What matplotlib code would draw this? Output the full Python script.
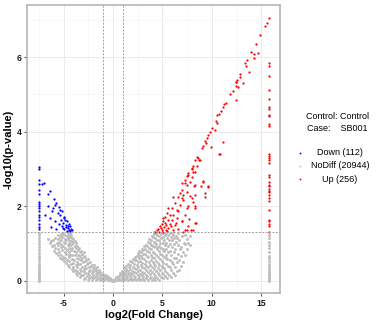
import numpy as np
import matplotlib
matplotlib.use("Agg")
import matplotlib.pyplot as plt
from matplotlib.lines import Line2D

plt.rcParams['font.family'] = ['Liberation Sans', 'DejaVu Sans']
plt.rcParams['axes.unicode_minus'] = False

# legend categories and counts
categories = ["Down", "NoDiff", "Up"]
counts = [112, 20944, 256]
colors = ["#0000FF", "#BEBEBE", "#FF0000"]
control_name = "Control"
case_name = "SB001"

# significant down (log2FC, -log10 p)
down_pts = [
    (-7.53, 3.05), (-7.53, 3.0), (-7.53, 2.69), (-7.53, 2.59), (-7.53, 2.44), (-7.53, 2.32),
    (-7.53, 2.11), (-7.53, 2.06), (-7.53, 2.0), (-7.53, 1.95), (-7.53, 1.86), (-7.53, 1.77),
    (-7.53, 1.7), (-7.53, 1.64), (-7.53, 1.53), (-7.53, 1.44), (-7.53, 1.38),
    (-7.19, 2.59), (-6.96, 2.62), (-6.41, 2.41), (-6.62, 2.32), (-5.95, 2.19), (-5.74, 2.08),
    (-6.62, 2.01), (-6.08, 1.95), (-6.18, 1.88), (-5.5, 1.99), (-5.4, 1.9), (-5.17, 1.86),
    (-6.86, 1.77), (-6.35, 1.68), (-5.34, 1.77), (-5.0, 1.68), (-4.83, 1.64), (-5.84, 1.59),
    (-5.5, 1.53), (-4.66, 1.59), (-4.49, 1.53), (-6.28, 1.44), (-5.74, 1.4), (-5.17, 1.47),
    (-4.73, 1.5), (-4.39, 1.46), (-4.26, 1.4), (-4.15, 1.37), (-4.93, 1.38), (-4.59, 1.42),
    (-4.3, 1.34), (-4.8, 1.45), (-5.05, 1.55), (-4.45, 1.36), (-4.65, 1.33), (-5.3, 1.62),
    (-4.95, 1.72), (-5.6, 1.82), (-5.85, 2.02), (-4.55, 1.48), (-5.1, 1.41),
]

# significant up
up_pts = [
    (15.8, 7.05), (15.6, 6.93), (15.4, 6.83), (14.9, 6.6), (14.5, 6.34), (14.0, 6.13),
    (14.3, 6.08), (14.7, 6.12), (14.3, 5.99), (13.6, 5.92), (13.4, 5.84), (13.5, 5.77),
    (13.8, 5.6), (12.9, 5.55), (12.9, 5.47), (13.2, 5.3), (12.5, 5.39), (12.4, 5.34),
    (12.46, 5.34), (12.43, 5.23), (12.7, 5.19), (12.19, 5.1), (11.85, 5.0), (12.43, 4.85),
    (11.45, 4.76), (11.28, 4.73), (11.18, 4.67), (10.91, 4.56), (10.77, 4.47), (10.57, 4.45),
    (10.4, 4.29), (10.5, 4.23), (10.06, 4.11), (10.33, 4.05), (9.83, 3.98), (9.66, 3.91),
    (9.49, 3.84), (9.32, 3.74), (9.42, 3.69), (9.15, 3.62), (11.18, 3.71), (9.9, 3.58),
    (8.98, 3.56), (10.77, 3.4), (8.53, 3.32), (8.74, 3.24), (8.31, 3.23), (8.14, 3.09),
    (8.48, 3.08), (7.97, 2.99), (8.31, 2.93), (7.46, 2.81), (7.97, 2.78), (7.29, 2.71),
    (9.08, 2.68), (6.96, 2.62), (7.46, 2.57), (8.2, 2.53), (9.66, 2.51), (8.92, 2.55),
    (6.79, 2.35), (7.12, 2.31), (7.8, 2.28), (8.31, 2.31), (9.32, 2.26), (6.96, 2.22),
    (8.07, 2.1), (7.63, 2.0), (8.31, 1.95), (7.29, 1.77), (7.73, 1.65), (6.96, 1.59),
    (8.31, 1.55), (7.63, 1.46), (8.64, 3.29), (7.97, 3.02), (8.14, 2.93), (7.63, 2.84),
    (7.8, 2.66), (7.29, 2.62), (8.31, 2.57), (6.96, 2.44), (7.46, 2.39), (6.62, 2.26),
    (7.12, 2.17), (7.97, 2.22), (6.28, 2.08), (6.79, 2.04), (5.95, 1.95), (6.45, 1.9),
    (7.53, 1.95), (5.44, 1.81), (5.78, 1.77), (6.11, 1.77), (5.27, 1.72), (5.6, 1.64),
    (5.95, 1.64), (6.45, 1.68), (6.96, 1.59), (5.1, 1.59), (4.93, 1.53), (5.37, 1.5),
    (5.78, 1.53), (6.28, 1.5), (4.76, 1.46), (5.17, 1.44), (5.6, 1.41), (4.59, 1.39),
    (4.93, 1.37), (4.43, 1.35), (5.37, 1.37), (6.11, 1.37), (6.62, 1.38), (7.29, 1.35),
    (4.26, 1.32), (7.87, 1.37), (4.69, 1.32), (5.1, 1.32), (7.63, 2.89), (6.11, 2.26),
    (5.6, 1.95), (6.62, 1.86), (5.1, 1.68), (8.81, 3.24), (9.15, 2.66), (9.66, 2.53),
    (9.32, 2.35), (8.31, 2.0), (8.07, 1.37), (8.41, 1.55), (7.12, 1.32), (7.53, 1.37),
    (10.84, 3.4), (5.3, 1.55), (5.85, 1.46), (6.4, 1.55), (4.85, 1.42), (5.5, 1.33),
    (15.8, 5.84), (15.8, 5.76), (15.8, 5.5), (15.8, 5.12), (15.8, 4.89), (15.8, 4.66),
    (15.8, 4.6), (15.8, 4.46), (15.8, 4.42), (15.8, 4.2), (15.8, 4.14), (15.8, 3.4),
    (15.8, 3.35), (15.8, 3.3), (15.8, 3.23), (15.8, 3.16), (15.8, 2.84), (15.8, 2.78),
    (15.8, 2.65), (15.8, 2.57), (15.8, 2.55), (15.8, 2.46), (15.8, 2.41), (15.8, 2.37),
    (15.8, 2.31), (15.8, 2.22), (15.8, 2.13), (15.8, 1.9), (15.8, 1.62), (15.8, 1.59),
    (15.8, 1.53), (15.8, 1.48), (15.8, 1.32),
]

# not significant
nodiff_pts = [
    # left wing
    (-0.25, 0.02), (-0.35, 0.06), (-0.55, 0.01), (-0.65, 0.07), (-0.6, 0.12),
    (-0.95, 0.02), (-1.05, 0.08), (-0.9, 0.14), (-1.1, 0.19), (-1.35, 0.01),
    (-1.45, 0.07), (-1.3, 0.14), (-1.5, 0.21), (-1.4, 0.28), (-1.75, 0.02),
    (-1.85, 0.09), (-1.7, 0.17), (-1.9, 0.26), (-1.8, 0.34), (-1.95, 0.41),
    (-2.15, 0.03), (-2.25, 0.11), (-2.1, 0.2), (-2.3, 0.3), (-2.2, 0.4),
    (-2.35, 0.49), (-2.55, 0.03), (-2.65, 0.12), (-2.5, 0.22), (-2.7, 0.33),
    (-2.6, 0.44), (-2.75, 0.55), (-2.8, 0.64), (-2.95, 0.05), (-3.05, 0.15),
    (-2.9, 0.26), (-3.1, 0.38), (-3.0, 0.5), (-3.15, 0.62), (-3.1, 0.72),
    (-3.2, 0.8), (-3.35, 0.1), (-3.45, 0.2), (-3.3, 0.32), (-3.5, 0.45),
    (-3.4, 0.58), (-3.55, 0.7), (-3.5, 0.82), (-3.6, 0.93), (-3.75, 0.2),
    (-3.85, 0.3), (-3.7, 0.42), (-3.9, 0.55), (-3.8, 0.68), (-3.95, 0.8),
    (-3.85, 0.92), (-4.0, 1.04), (-4.05, 1.12), (-4.15, 0.32), (-4.25, 0.45),
    (-4.1, 0.58), (-4.3, 0.7), (-4.2, 0.83), (-4.35, 0.95), (-4.25, 1.07),
    (-4.35, 1.18), (-4.3, 1.27), (-4.55, 0.42), (-4.65, 0.55), (-4.5, 0.68),
    (-4.7, 0.82), (-4.6, 0.95), (-4.75, 1.08), (-4.65, 1.2), (-4.55, 1.28),
    (-4.95, 0.52), (-5.05, 0.64), (-4.9, 0.78), (-5.1, 0.92), (-5.0, 1.05),
    (-5.15, 1.18), (-5.05, 1.27), (-5.35, 0.62), (-5.45, 0.76), (-5.3, 0.9),
    (-5.5, 1.04), (-5.4, 1.16), (-5.3, 1.26), (-5.75, 0.74), (-5.85, 0.88),
    (-5.7, 1.02), (-5.9, 1.15), (-6.2, 0.92), (-6.25, 1.06), (-6.6, 1.12),
    (-1.6, 0.24), (-2.45, 0.36), (-3.25, 0.55), (-3.65, 0.62), (-4.45, 0.88),
    (-4.85, 1.0), (-2.05, 0.15), (-2.85, 0.4), (-3.7, 1.0), (-4.4, 1.1),
    (-1.2, 0.05), (-0.8, 0.04), (-5.25, 0.7), (-5.6, 0.84), (-4.0, 0.25),
    (-0.45, 0.03), (-0.5, 0.09), (-0.85, 0.05), (-0.8, 0.11), (-0.85, 0.16),
    (-1.25, 0.03), (-1.25, 0.1), (-1.2, 0.17), (-1.3, 0.23), (-1.65, 0.04),
    (-1.6, 0.12), (-1.65, 0.2), (-1.7, 0.29), (-1.65, 0.36), (-2.0, 0.06),
    (-2.05, 0.25), (-2.0, 0.34), (-2.1, 0.43), (-2.4, 0.07), (-2.45, 0.16),
    (-2.4, 0.26), (-2.5, 0.47), (-2.55, 0.57), (-2.85, 0.08), (-2.85, 0.2),
    (-2.9, 0.32), (-2.85, 0.52), (-2.95, 0.67), (-2.95, 0.76), (-3.25, 0.15),
    (-3.25, 0.27), (-3.3, 0.45), (-3.3, 0.66), (-3.35, 0.77), (-3.4, 0.88),
    (-3.6, 0.15), (-3.6, 0.27), (-3.65, 0.38), (-3.65, 0.5), (-3.7, 0.76),
    (-3.75, 0.87), (-3.8, 1.06), (-4.0, 0.37), (-4.05, 0.48), (-4.1, 0.7),
    (-4.1, 0.87), (-4.15, 0.99), (-4.15, 1.14), (-4.2, 1.22), (-4.4, 0.38),
    (-4.45, 0.52), (-4.45, 0.63), (-4.5, 0.77), (-4.5, 1.02), (-4.55, 1.15),
    (-4.45, 1.24), (-4.8, 0.47), (-4.85, 0.6), (-4.8, 0.72), (-4.9, 0.88),
    (-4.85, 1.12), (-4.9, 1.22), (-5.2, 0.58), (-5.2, 0.82), (-5.25, 0.98),
    (-5.25, 1.1), (-5.2, 1.24), (-5.55, 0.68), (-5.6, 0.96), (-5.55, 1.12),
    (-5.6, 1.22), (-5.95, 0.8), (-6.0, 0.95), (-6.05, 1.1), (-6.4, 1.0),
    (-0.1, 0.0), (0.1, 0.0), (0.05, 0.02), (-0.05, 0.01),
    # left column
    (-7.53, 0.0), (-7.53, 0.03), (-7.53, 0.06), (-7.53, 0.1), (-7.53, 0.14), (-7.53, 0.18),
    (-7.53, 0.23), (-7.53, 0.28), (-7.53, 0.34), (-7.53, 0.4), (-7.53, 0.46), (-7.53, 0.53),
    (-7.53, 0.6), (-7.53, 0.67), (-7.53, 0.74), (-7.53, 0.82), (-7.53, 0.9), (-7.53, 0.98),
    (-7.53, 1.06), (-7.53, 1.14), (-7.53, 1.22), (-7.53, 1.29),
    # right wing
    (0.3, 0.01), (0.25, 0.05), (0.35, 0.09), (0.7, 0.02), (0.65, 0.08), (0.75, 0.15),
    (0.7, 0.21), (1.1, 0.01), (1.05, 0.07), (1.15, 0.14), (1.1, 0.22), (1.2, 0.3),
    (1.15, 0.36), (1.5, 0.02), (1.45, 0.09), (1.55, 0.18), (1.5, 0.27), (1.6, 0.36),
    (1.55, 0.46), (1.9, 0.01), (1.85, 0.08), (1.95, 0.17), (1.9, 0.27), (2.0, 0.38),
    (1.95, 0.49), (2.05, 0.59), (2.3, 0.02), (2.25, 0.1), (2.35, 0.2), (2.3, 0.31),
    (2.4, 0.43), (2.35, 0.55), (2.45, 0.66), (2.5, 0.74), (2.7, 0.01), (2.65, 0.09),
    (2.75, 0.19), (2.7, 0.3), (2.8, 0.42), (2.75, 0.54), (2.85, 0.66), (2.8, 0.78),
    (2.9, 0.86), (3.1, 0.02), (3.05, 0.1), (3.15, 0.21), (3.1, 0.33), (3.2, 0.46),
    (3.15, 0.59), (3.25, 0.72), (3.2, 0.85), (3.3, 0.97), (3.5, 0.03), (3.45, 0.12),
    (3.55, 0.24), (3.5, 0.37), (3.6, 0.5), (3.55, 0.63), (3.65, 0.76), (3.6, 0.89),
    (3.7, 1.01), (3.65, 1.12), (3.9, 0.02), (3.85, 0.11), (3.95, 0.23), (3.9, 0.36),
    (4.0, 0.5), (3.95, 0.64), (4.05, 0.78), (4.0, 0.92), (4.1, 1.05), (4.05, 1.17),
    (4.1, 1.26), (4.3, 0.02), (4.25, 0.12), (4.35, 0.25), (4.3, 0.39), (4.4, 0.54),
    (4.35, 0.69), (4.45, 0.84), (4.4, 0.98), (4.5, 1.1), (4.45, 1.22), (4.35, 1.29),
    (4.7, 0.03), (4.65, 0.14), (4.75, 0.28), (4.7, 0.43), (4.8, 0.58), (4.75, 0.73),
    (4.85, 0.88), (4.8, 1.02), (4.9, 1.15), (4.85, 1.25), (5.1, 0.06), (5.05, 0.18),
    (5.15, 0.33), (5.1, 0.48), (5.2, 0.64), (5.15, 0.8), (5.25, 0.96), (5.2, 1.1),
    (5.3, 1.22), (5.5, 0.07), (5.45, 0.22), (5.55, 0.4), (5.5, 0.58), (5.6, 0.76),
    (5.55, 0.94), (5.65, 1.1), (5.6, 1.24), (5.9, 0.1), (5.85, 0.3), (5.95, 0.5),
    (5.9, 0.7), (6.0, 0.9), (5.95, 1.08), (6.05, 1.22), (6.3, 0.15), (6.25, 0.38),
    (6.35, 0.6), (6.3, 0.84), (6.4, 1.05), (6.35, 1.2), (6.7, 0.28), (6.65, 0.55),
    (6.75, 0.85), (6.7, 1.1), (7.1, 0.5), (7.05, 0.78), (7.15, 1.02), (7.5, 0.85),
    (7.45, 1.12), (7.8, 0.95), (7.8, 1.19), (2.55, 0.25), (3.35, 0.4), (3.75, 0.3),
    (4.2, 0.62), (4.6, 0.9), (5.0, 0.4), (5.4, 0.7), (2.15, 0.45), (2.95, 0.6),
    (3.8, 0.85), (4.55, 0.2), (6.1, 0.45), (6.55, 0.95), (6.9, 0.65), (1.35, 0.25),
    (0.5, 0.02), (0.5, 0.06), (0.5, 0.12), (0.9, 0.03), (0.9, 0.11), (0.95, 0.18),
    (0.9, 0.26), (1.3, 0.04), (1.3, 0.11), (1.3, 0.18), (1.35, 0.32), (1.3, 0.4),
    (1.7, 0.04), (1.7, 0.13), (1.75, 0.22), (1.7, 0.31), (1.75, 0.42), (1.75, 0.52),
    (2.1, 0.05), (2.1, 0.13), (2.15, 0.24), (2.1, 0.34), (2.2, 0.55), (2.2, 0.64),
    (2.5, 0.05), (2.5, 0.14), (2.55, 0.37), (2.55, 0.49), (2.6, 0.6), (2.65, 0.7),
    (2.65, 0.8), (2.9, 0.05), (2.9, 0.14), (2.95, 0.24), (2.95, 0.36), (2.95, 0.48),
    (3.0, 0.72), (3.05, 0.82), (3.1, 0.92), (3.3, 0.06), (3.3, 0.16), (3.35, 0.28),
    (3.35, 0.52), (3.4, 0.66), (3.4, 0.79), (3.45, 0.92), (3.5, 1.04), (3.7, 0.07),
    (3.7, 0.18), (3.75, 0.42), (3.8, 0.56), (3.8, 0.7), (3.85, 0.97), (3.85, 1.09),
    (3.9, 1.2), (4.1, 0.07), (4.15, 0.18), (4.15, 0.31), (4.2, 0.45), (4.2, 0.74),
    (4.25, 0.9), (4.25, 1.0), (4.3, 1.14), (4.2, 1.3), (4.5, 0.08), (4.55, 0.33),
    (4.6, 0.48), (4.6, 0.64), (4.65, 0.8), (4.65, 0.94), (4.7, 1.08), (4.65, 1.2),
    (4.9, 0.1), (4.95, 0.22), (4.95, 0.36), (5.0, 0.53), (5.0, 0.7), (5.05, 0.86),
    (5.05, 1.02), (5.1, 1.16), (5.05, 1.28), (5.3, 0.12), (5.3, 0.27), (5.35, 0.44),
    (5.35, 0.6), (5.4, 0.86), (5.4, 1.0), (5.45, 1.15), (5.4, 1.27), (5.7, 0.16),
    (5.75, 0.36), (5.75, 0.55), (5.8, 0.8), (5.8, 0.98), (5.85, 1.16), (5.75, 1.28),
    (6.1, 0.2), (6.15, 0.62), (6.15, 0.78), (6.2, 0.98), (6.2, 1.14), (6.1, 1.28),
    (6.5, 0.25), (6.5, 0.5), (6.55, 0.72), (6.5, 1.15), (6.55, 1.27), (6.9, 0.4),
    (6.9, 0.9), (6.95, 1.2), (7.3, 0.7), (7.3, 0.98), (7.3, 1.22), (7.6, 1.0),
    # right column
    (15.8, 0.0), (15.8, 0.03), (15.8, 0.06), (15.8, 0.1), (15.8, 0.14), (15.8, 0.18),
    (15.8, 0.23), (15.8, 0.28), (15.8, 0.34), (15.8, 0.4), (15.8, 0.46), (15.8, 0.53),
    (15.8, 0.6), (15.8, 0.66), (15.8, 0.78), (15.8, 0.88), (15.8, 0.95), (15.8, 1.05),
    (15.8, 1.14), (15.8, 1.22),
]

fc_cut = 1.0
p_cut = 0.05

fig = plt.figure(figsize=(3.77, 3.23), dpi=100)
ax = fig.add_axes([27 / 377, 30 / 323, 253 / 377, 288 / 323])

for pts, col, sz in [(nodiff_pts, colors[1], 4.5), (down_pts, colors[0], 2.6), (up_pts, colors[2], 2.6)]:
    arr = np.array(pts)
    ax.scatter(arr[:, 0], arr[:, 1], s=sz, c=col, linewidths=0, zorder=3)

ax.axvline(-fc_cut, color="#A0A0A0", ls=(0, (2, 1.5)), lw=0.7, zorder=4)
ax.axvline(fc_cut, color="#A0A0A0", ls=(0, (2, 1.5)), lw=0.7, zorder=4)
ax.axhline(-np.log10(p_cut), color="#A0A0A0", ls=(0, (2, 1.5)), lw=0.7, zorder=4)

ax.set_xlim(-8.7, 16.9)
ax.set_ylim(-0.33, 7.4)
ax.set_xticks([-5, 0, 5, 10, 15])
ax.set_yticks([0, 2, 4, 6])
ax.set_xticks([-7.5, -2.5, 2.5, 7.5, 12.5], minor=True)
ax.set_yticks([1, 3, 5, 7], minor=True)
ax.grid(True, which="major", color="#EBEBEB", lw=0.7, zorder=0)
ax.grid(True, which="minor", color="#F5F5F5", lw=0.5, zorder=0)
ax.set_axisbelow(True)
ax.tick_params(which="major", length=2.5, width=0.6, color="#333333", labelsize=6.2, pad=1.5)
ax.tick_params(which="minor", length=0)
for lab in ax.get_xticklabels() + ax.get_yticklabels():
    lab.set_fontweight("bold")
    lab.set_color("#1a1a1a")
for sp in ax.spines.values():
    sp.set_color("#B5B5B5")
    sp.set_linewidth(1.2)

ax.set_xlabel("log2(Fold Change)", fontsize=8, fontweight="bold", labelpad=2)
ax.set_ylabel("-log10(p-value)", fontsize=8, fontweight="bold", labelpad=2)

# legend drawn by hand, labels centred like the reference
fig.text(338 / 377, 1 - 116.7 / 323, f"Control: {control_name}", ha="center", va="center", fontsize=6.5)
fig.text(337 / 377, 1 - 128.3 / 323, f"Case:    {case_name}", ha="center", va="center", fontsize=6.5)
for i, (cat, n, col) in enumerate(zip(categories, counts, colors)):
    yy = 1 - (152.7 + 13.2 * i) / 323
    fig.add_artist(Line2D([300 / 377], [yy], marker="o", ms=1.3, color=col, mec="none",
                          transform=fig.transFigure))
    fig.text(340 / 377, yy, f"{cat} ({n})", ha="center", va="center", fontsize=6.5)

fig.savefig("out.png", dpi=100)
